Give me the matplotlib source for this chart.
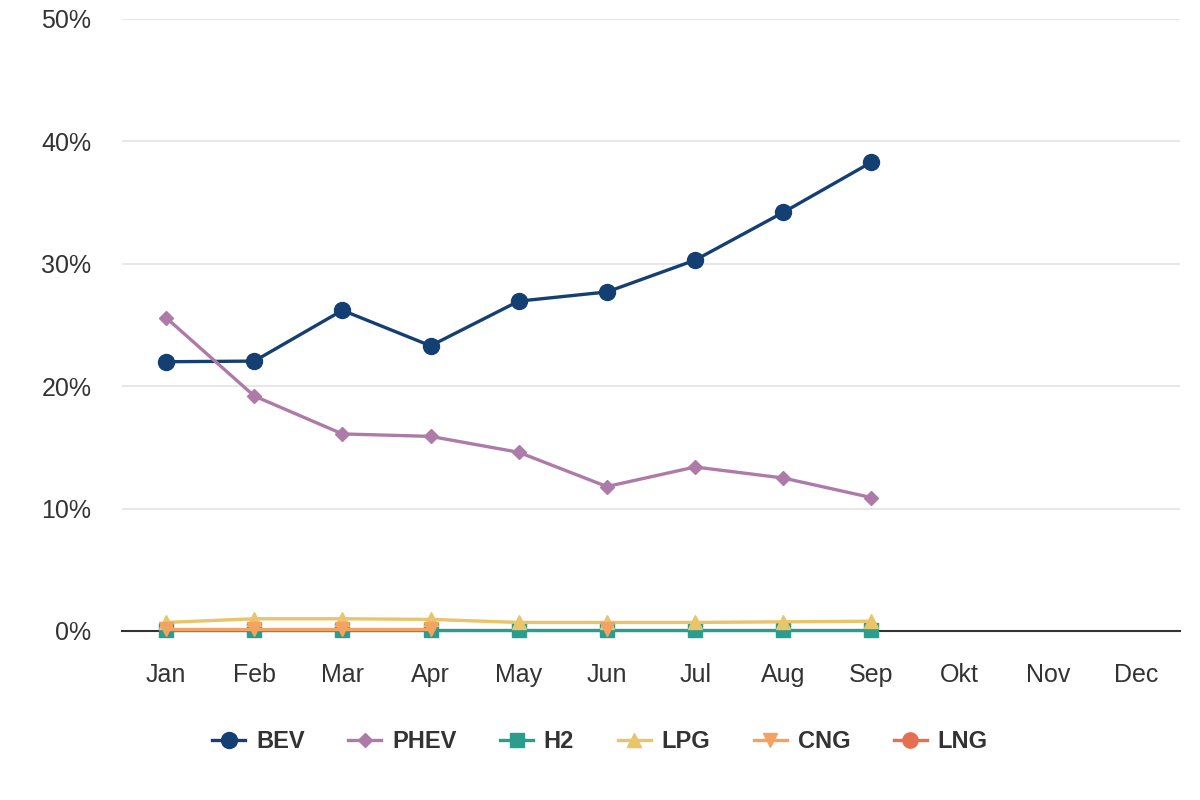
import matplotlib.pyplot as plt
import numpy as np

plt.rcParams['font.family'] = ['Liberation Sans', 'DejaVu Sans']

months = ['Jan', 'Feb', 'Mar', 'Apr', 'May', 'Jun', 'Jul', 'Aug', 'Sep', 'Okt', 'Nov', 'Dec']
nan = np.nan

bev = [22.0, 22.05, 26.2, 23.3, 26.95, 27.7, 30.3, 34.2, 38.3]
phev = [25.6, 19.2, 16.1, 15.9, 14.6, 11.8, 13.4, 12.5, 10.9]
h2 = [0.1, 0.1, 0.1, 0.1, 0.1, 0.1, 0.1, 0.1, 0.1]
lpg = [0.7, 1.0, 1.0, 0.95, 0.7, 0.7, 0.7, 0.75, 0.8]
cng = [0.15, 0.15, 0.15, 0.15, nan, 0.15, nan, nan, nan]
lng = [nan, nan, nan, nan, nan, nan, nan, nan, nan]

series = [
    ('BEV', bev, '#143f73', 'o', 11.5),
    ('PHEV', phev, '#ae7ba8', 'D', 7.5),
    ('H2', h2, '#2a9d8f', 's', 9.5),
    ('LPG', lpg, '#e9c46a', '^', 10.5),
    ('CNG', cng, '#f4a261', 'v', 10.5),
    ('LNG', lng, '#e76f51', 'o', 11),
]

fig = plt.figure(figsize=(12, 8), dpi=100)
ax = fig.add_axes([122 / 1200, 1 - 631 / 800, 1058 / 1200, 612 / 800])

x = np.arange(len(months))
for name, vals, color, marker, ms in series:
    ax.plot(x[:len(vals)], vals, color=color, marker=marker, markersize=ms,
            linewidth=2.4, label=name, clip_on=False, zorder=3)

ax.set_xlim(-0.5, 11.5)
ax.set_ylim(0, 50)
ax.set_yticks([0, 10, 20, 30, 40, 50])
ax.set_yticklabels([f'{v}%' for v in [0, 10, 20, 30, 40, 50]])
ax.set_xticks(x)
ax.set_xticklabels(months)
ax.tick_params(length=0, labelsize=18, colors='#333333')
ax.tick_params(axis='x', pad=23)
ax.tick_params(axis='y', pad=22)
ax.grid(axis='y', color='#e3e3e3', linewidth=1.2)
ax.set_axisbelow(True)
for s in ['top', 'right', 'left']:
    ax.spines[s].set_visible(False)
ax.spines['bottom'].set_color('#333333')
ax.spines['bottom'].set_linewidth(1.5)
ax.spines['bottom'].set_zorder(2)

leg = ax.legend(loc='center', bbox_to_anchor=(600 / 1200, 1 - 742 / 800),
                bbox_transform=fig.transFigure, ncol=6, frameon=False,
                prop={'weight': 'bold', 'size': 17}, handlelength=1.4,
                columnspacing=1.85, handletextpad=0.45, markerscale=1.0)
for t in leg.get_texts():
    t.set_color('#333333')

fig.savefig('out.png', dpi=100)
